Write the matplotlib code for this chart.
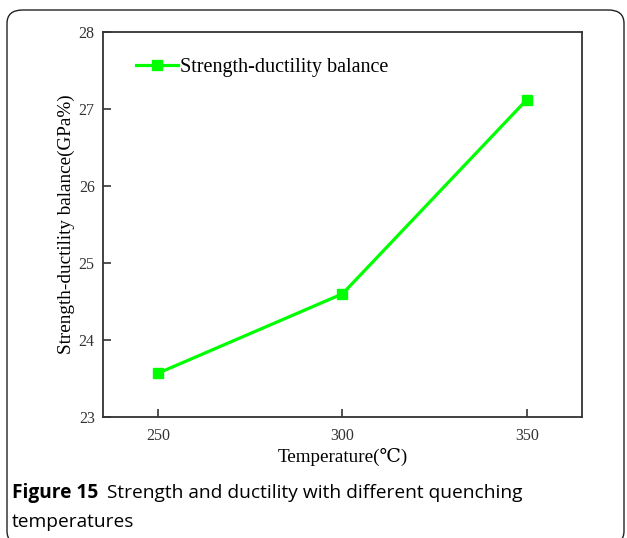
import matplotlib.pyplot as plt
from matplotlib.patches import FancyBboxPatch

temperature = [250, 300, 350]
balance = [23.57, 24.60, 27.12]
x_ticks = [250, 300, 350]
y_ticks = [23, 24, 25, 26, 27, 28]

fig = plt.figure(figsize=(6.27, 5.38), dpi=100)

# rounded frame round the figure and caption
y_bot = -0.012
y_top = 1 - 10 / 538
frame = FancyBboxPatch((7 / 627, y_bot), 617 / 627, y_top - y_bot,
                       boxstyle='round,pad=0,rounding_size=0.025',
                       transform=fig.transFigure, fill=False,
                       edgecolor='#222222', linewidth=1.0)
fig.patches.append(frame)

ax = fig.add_axes([0.1643, 0.2249, 0.7639, 0.7156])
serif = ['Liberation Serif', 'DejaVu Serif']

ax.plot(temperature, balance, color='#00ff00', linewidth=2.3,
        marker='s', markersize=7, label='Strength-ductility balance')

ax.set_xlim(235, 365)
ax.set_ylim(23, 28)
ax.set_xticks(x_ticks)
ax.set_yticks(y_ticks)
ax.tick_params(direction='in', length=6, width=1.2, top=False, right=False,
               labelsize=11.5, colors='#333333')
ax.tick_params(axis='x', pad=8)
ax.tick_params(axis='y', pad=6)
for lab in ax.get_xticklabels() + ax.get_yticklabels():
    lab.set_fontfamily(serif)
for s in ax.spines.values():
    s.set_linewidth(1.3)
    s.set_color('#333333')

ax.set_xlabel('Temperature(\u2103)', fontfamily=serif, fontsize=13.8, labelpad=3)
ax.set_ylabel('Strength-ductility balance(GPa%)', fontfamily=serif,
              fontsize=13.8, labelpad=3)

leg = ax.legend(loc='upper left', bbox_to_anchor=(0.03, 0.98), frameon=False,
                prop={'family': serif, 'size': 14.5}, handlelength=2.1,
                handletextpad=0.1)

fig.text(12 / 627, 1 - 493 / 538, 'Figure 15', fontfamily='Open Sans',
         fontweight='bold', fontsize=13.8, va='center')
fig.text(107 / 627, 1 - 493 / 538,
         'Strength and ductility with different quenching',
         fontfamily='Open Sans', fontsize=13.8, va='center')
fig.text(12 / 627, 1 - 522 / 538, 'temperatures', fontfamily='Open Sans',
         fontsize=13.8, va='center')

fig.savefig('out.png', dpi=100)
